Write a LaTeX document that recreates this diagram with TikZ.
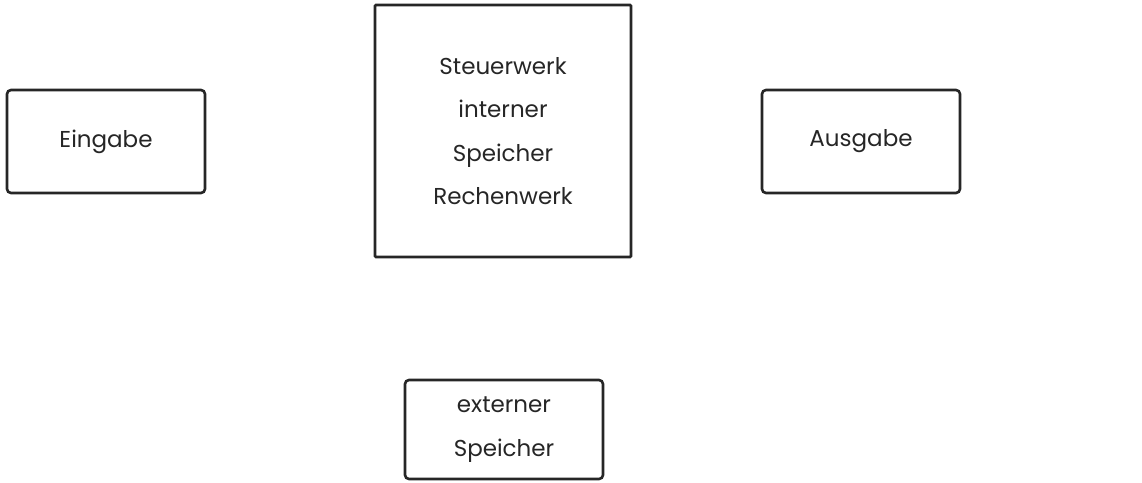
\documentclass[tikz,border=0pt]{standalone}
\usepackage{fontspec}
\setmainfont{Poppins}
\definecolor{ink}{HTML}{262626}
\tikzset{
  unitbox/.style={draw=ink, line width=2.6pt, rounded corners=4pt,
    inner sep=0pt, align=center, text=ink,
    font=\fontsize{23}{43.5}\selectfont},
  corebox/.style={unitbox, rounded corners=1pt}
}
\begin{document}
\begin{tikzpicture}[x=1pt, y=-1pt]
  \useasboundingbox (0,0) rectangle (1142,482);
  % input and output devices
  \node[unitbox, minimum width=198pt, minimum height=103pt] (eingabe) at (106,141.5) {Eingabe};
  \node[unitbox, minimum width=198pt, minimum height=103pt] (ausgabe) at (861,141.5) {Ausgabe};
  % central unit
  \node[corebox, minimum width=256pt, minimum height=252pt] (zentral) at (503,131)
    {Steuerwerk\\interner\\Speicher\\Rechenwerk};
  % external storage
  \node[unitbox, minimum width=198pt, minimum height=99pt] (extern) at (504,429.5)
    {externer\\Speicher};
\end{tikzpicture}
\end{document}
